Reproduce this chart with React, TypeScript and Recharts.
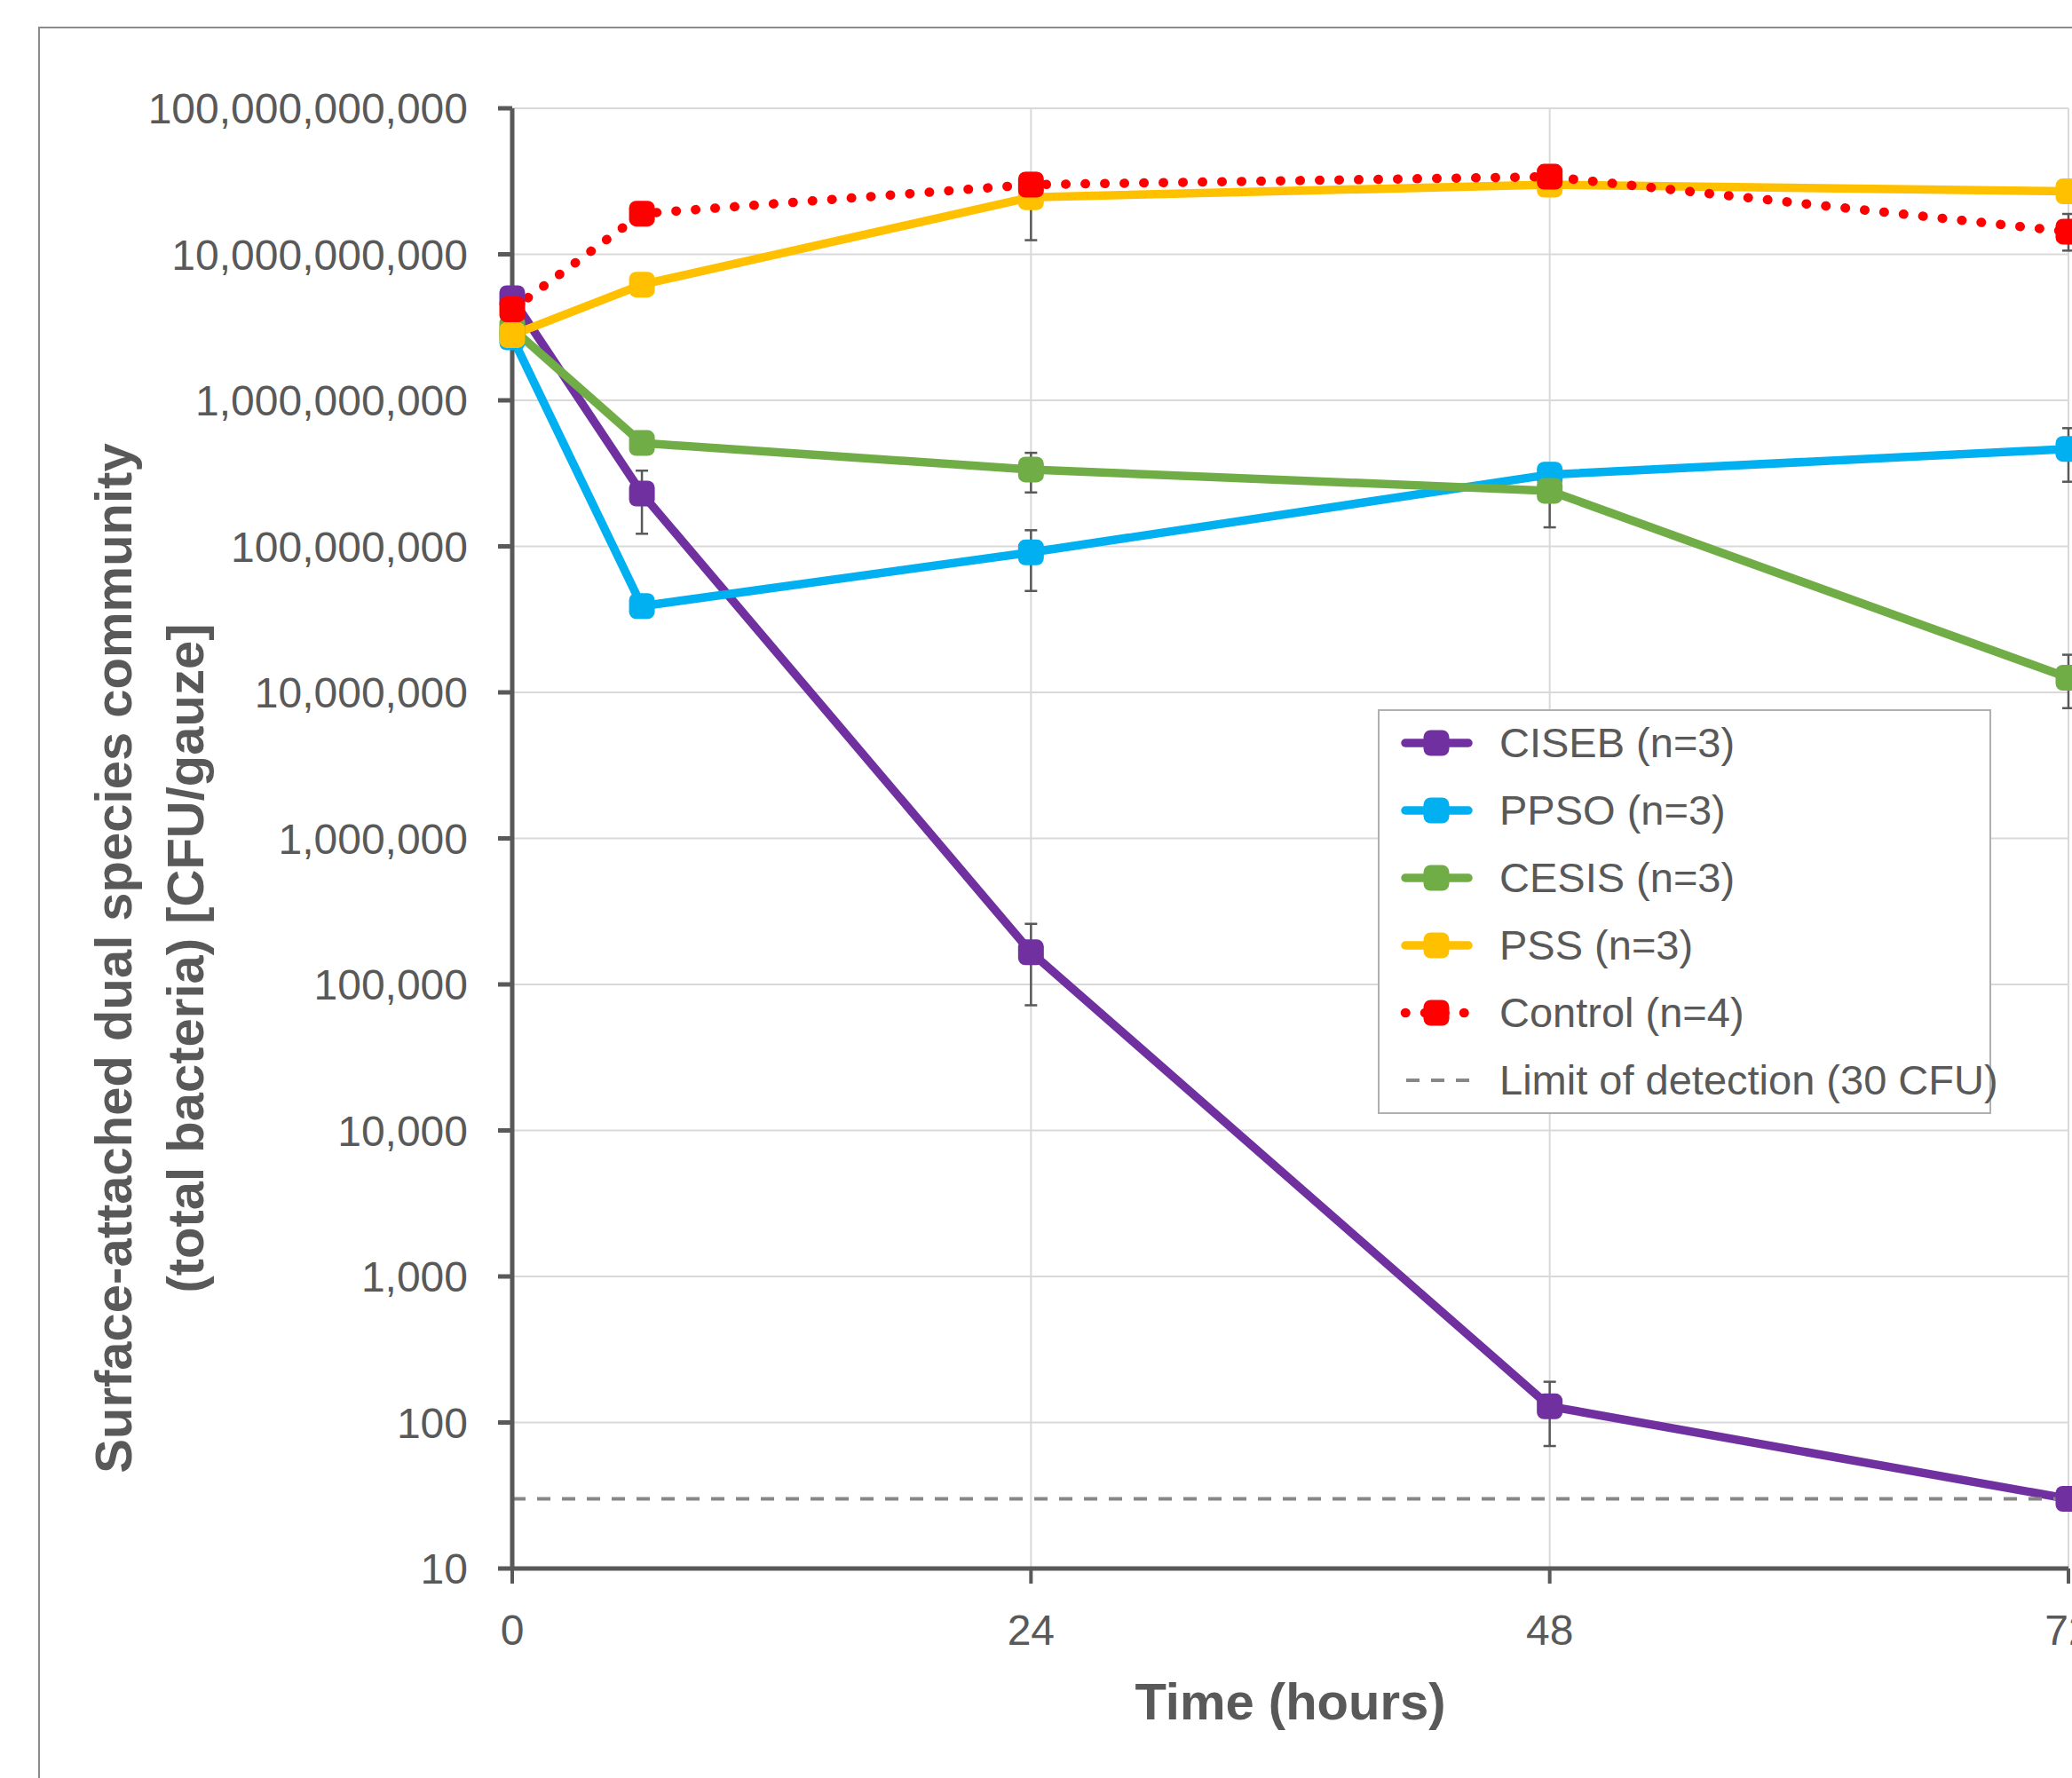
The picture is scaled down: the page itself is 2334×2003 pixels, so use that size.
import React from 'react';
import { LineChart, Line, XAxis, YAxis, CartesianGrid, ErrorBar, Legend, Label } from 'recharts';

// ---------- data ----------
const hours = [0, 6, 24, 48, 72];
const xTicks = [0, 24, 48, 72];
const yTicks = [10, 100, 1e3, 1e4, 1e5, 1e6, 1e7, 1e8, 1e9, 1e10, 1e11];

const cisebValues = [5.0e9, 2.3e8, 1.66e5, 129, 30];
const cisebLow = [null, 1.22e8, 7.2e4, 69, null];
const cisebHigh = [null, 3.3e8, 2.6e5, 190, null];

const ppsoValues = [2.7e9, 3.9e7, 9.1e7, 3.1e8, 4.65e8];
const ppsoLow = [null, null, 4.95e7, null, 2.77e8];
const ppsoHigh = [null, null, 1.29e8, null, 6.45e8];

const cesisValues = [3.1e9, 5.1e8, 3.36e8, 2.4e8, 1.26e7];
const cesisLow = [null, null, 2.34e8, 1.35e8, 7.8e6];
const cesisHigh = [null, null, 4.37e8, 3.7e8, 1.81e7];

const pssValues = [2.8e9, 6.2e9, 2.46e10, 3.0e10, 2.7e10];
const pssLow = [null, null, 1.25e10, null, null];
const pssHigh = [null, null, 3.6e10, null, null];

const controlValues = [4.2e9, 1.9e10, 3.0e10, 3.4e10, 1.43e10];
const controlLow = [null, null, null, null, 1.06e10];
const controlHigh = [null, null, null, null, 1.89e10];

const lodValues = [30, 30, 30, 30, 30];

// ---------- styling ----------
const FONT = '"Liberation Sans", Arial, sans-serif';
const TEXT = '#595959';
const AXIS = '#595959';
const GRID = '#D9D9D9';
const LOD_COLOR = '#878787';

type Series = {
  key: string;
  name: string;
  color: string;
  values: number[];
  low: (number | null)[];
  high: (number | null)[];
  dotted?: boolean;
};

const series: Series[] = [
  { key: 'ciseb', name: 'CISEB (n=3)', color: '#7030A0', values: cisebValues, low: cisebLow, high: cisebHigh },
  { key: 'ppso', name: 'PPSO (n=3)', color: '#00B0F0', values: ppsoValues, low: ppsoLow, high: ppsoHigh },
  { key: 'cesis', name: 'CESIS (n=3)', color: '#70AD47', values: cesisValues, low: cesisLow, high: cesisHigh },
  { key: 'pss', name: 'PSS (n=3)', color: '#FFC000', values: pssValues, low: pssLow, high: pssHigh },
  { key: 'control', name: 'Control (n=4)', color: '#FF0000', values: controlValues, low: controlLow, high: controlHigh, dotted: true },
];
const lodName = 'Limit of detection (30 CFU)';

const data = hours.map((h, i) => {
  const row: Record<string, any> = { hour: h, lod: lodValues[i] };
  series.forEach((s) => {
    const v = s.values[i];
    row[s.key] = v;
    const lo = s.low[i];
    const hi = s.high[i];
    if (lo != null && hi != null) row[s.key + 'Err'] = [v - lo, hi - v];
  });
  return row;
});

const MARK = 29;
const LINE_W = 9.5;
const DOT_W = 10.5;
const DOT_DASH = '0.5 21.5';
const LOD_DASH = '15 13';
const TICK_FS = 48;
const TITLE_FS = 58;

const makeDot = (key: string, color: string) => (p: any) => {
  if (p.cx == null || p.cy == null) return <g key={`${key}-${p.index}`} />;
  return (
    <rect
      key={`${key}-${p.index}`}
      x={p.cx - MARK / 2}
      y={p.cy - MARK / 2}
      width={MARK}
      height={MARK}
      rx={8}
      ry={8}
      fill={color}
    />
  );
};

const renderLegend = () => {
  const rowH = 76;
  return (
    <div
      style={{
        width: 691,
        height: 456,
        boxSizing: 'border-box',
        border: '2px solid #B0B0B0',
        background: '#FFFFFF',
        fontFamily: FONT,
      }}
    >
      {series.map((s) => (
        <div key={s.key} style={{ height: rowH, position: 'relative' }}>
          <svg width={120} height={rowH} style={{ position: 'absolute', left: 0, top: 0 }}>
            <line
              x1={29}
              y1={rowH / 2 - 2}
              x2={100}
              y2={rowH / 2 - 2}
              stroke={s.color}
              strokeWidth={s.dotted ? DOT_W : LINE_W}
              strokeDasharray={s.dotted ? DOT_DASH : undefined}
              strokeLinecap="round"
            />
            <rect x={64 - MARK / 2} y={rowH / 2 - 2 - MARK / 2} width={MARK} height={MARK} rx={8} ry={8} fill={s.color} />
          </svg>
          <span style={{ position: 'absolute', left: 135, top: 0, lineHeight: `${rowH - 4}px`, fontSize: 47, color: TEXT, whiteSpace: 'nowrap' }}>
            {s.name}
          </span>
        </div>
      ))}
      <div style={{ height: rowH, position: 'relative' }}>
        <svg width={120} height={rowH} style={{ position: 'absolute', left: 0, top: 0 }}>
          <line x1={30} y1={rowH / 2 - 2} x2={102} y2={rowH / 2 - 2} stroke={LOD_COLOR} strokeWidth={4} strokeDasharray={LOD_DASH} />
        </svg>
        <span style={{ position: 'absolute', left: 135, top: 0, lineHeight: `${rowH - 4}px`, fontSize: 47, color: TEXT, whiteSpace: 'nowrap' }}>
          {lodName}
        </span>
      </div>
    </div>
  );
};

const YTitle = (props: any) => {
  const vb = props.viewBox || { x: 0, y: 122, width: 577, height: 1645 };
  const cy = vb.y + vb.height / 2 + 135;
  const x1 = vb.x + 127;
  const x2 = vb.x + 208;
  const common = {
    textAnchor: 'middle' as const,
    dominantBaseline: 'central' as const,
    fontFamily: FONT,
    fontWeight: 700,
    fontSize: TITLE_FS,
    fill: TEXT,
  };
  return (
    <g>
      <text x={x1} y={cy} transform={`rotate(-90, ${x1}, ${cy})`} {...common}>
        Surface-attached dual species community
      </text>
      <text x={x2} y={cy} transform={`rotate(-90, ${x2}, ${cy})`} {...common}>
        (total bacteria) [CFU/gauze]
      </text>
    </g>
  );
};

const XTitle = (props: any) => {
  const vb = props.viewBox || { x: 577, y: 1767, width: 1753, height: 236 };
  return (
    <text
      x={vb.x + vb.width / 2}
      y={vb.y + 149}
      textAnchor="middle"
      dominantBaseline="central"
      fontFamily={FONT}
      fontWeight={700}
      fontSize={TITLE_FS}
      fill={TEXT}
    >
      Time (hours)
    </text>
  );
};

export default function App() {
  return (
    <div
      style={{
        position: 'fixed',
        left: 0,
        top: 0,
        width: 2334,
        height: 2003,
        overflow: 'hidden',
        background: '#FFFFFF',
      }}
    >
      <div
        style={{
          position: 'absolute',
          left: 43,
          top: 30,
          width: 3000,
          height: 3000,
          border: '2px solid #8C8C8C',
        }}
      />
      <div style={{ position: 'absolute', left: 0, top: 0 }}>
        <LineChart
          width={2560}
          height={2003}
          data={data}
          margin={{ top: 122, right: 230, bottom: 0, left: 0 }}
        >
          <CartesianGrid stroke={GRID} strokeWidth={2} vertical horizontal />
          <XAxis
            dataKey="hour"
            type="number"
            domain={[0, 72]}
            ticks={xTicks}
            interval={0}
            height={236}
            tickSize={17}
            tickMargin={35}
            axisLine={{ stroke: AXIS, strokeWidth: 5 }}
            tickLine={{ stroke: AXIS, strokeWidth: 4 }}
            tick={{ fill: TEXT, fontSize: TICK_FS, fontFamily: FONT }}
          >
            <Label content={XTitle} />
          </XAxis>
          <YAxis
            type="number"
            scale="log"
            domain={[10, 1e11]}
            ticks={yTicks}
            interval={0}
            width={577}
            tickSize={16}
            tickMargin={34}
            axisLine={{ stroke: AXIS, strokeWidth: 5 }}
            tickLine={{ stroke: AXIS, strokeWidth: 5 }}
            tick={{ fill: TEXT, fontSize: TICK_FS, fontFamily: FONT }}
            tickFormatter={(v: number) => Math.round(v).toLocaleString('en-US')}
          >
            <Label content={YTitle} />
          </YAxis>
          {series.map((s) => (
            <Line
              key={s.key}
              dataKey={s.key}
              name={s.name}
              type="linear"
              stroke={s.color}
              strokeWidth={s.dotted ? DOT_W : LINE_W}
              strokeDasharray={s.dotted ? DOT_DASH : undefined}
              strokeLinecap="round"
              strokeLinejoin="round"
              dot={makeDot(s.key, s.color)}
              activeDot={false}
              isAnimationActive={false}
            >
              <ErrorBar
                dataKey={s.key + 'Err'}
                direction="y"
                width={7}
                stroke={AXIS}
                strokeWidth={2.5}
                isAnimationActive={false}
              />
            </Line>
          ))}
          <Line
            dataKey="lod"
            name={lodName}
            type="linear"
            stroke={LOD_COLOR}
            strokeWidth={4}
            strokeDasharray={LOD_DASH}
            dot={false}
            activeDot={false}
            isAnimationActive={false}
          />
          <Legend
            layout="horizontal"
            verticalAlign="middle"
            align="center"
            content={renderLegend}
            wrapperStyle={{ position: 'absolute', left: 1552, top: 799, width: 691, height: 456 }}
          />
        </LineChart>
      </div>
    </div>
  );
}
